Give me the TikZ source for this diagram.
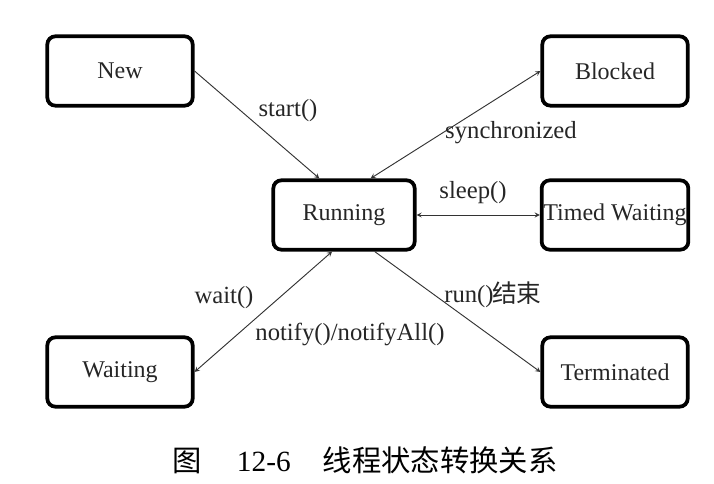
\documentclass[tikz,border=0pt]{standalone}
\usepackage{fontspec}
\setmainfont{Liberation Serif}
\newfontfamily\cjk{Noto Sans CJK SC}
\usepackage{tikz}
\usepackage{xcolor}

\begin{document}
\begin{tikzpicture}[
            x=0.75pt, y=-0.75pt,
            state/.style={rectangle, draw, line width=2.8pt, rounded corners=6pt, minimum width=109pt, minimum height=52pt, inner sep=0pt, font=\fontsize{18}{20}\selectfont, text=black!85},
            arrow/.style={->,>=stealth, line width=0.7pt, draw=black!80},
            twoway/.style={<->,>=stealth, line width=0.7pt, draw=black!80},
            lbl/.style={font=\fontsize{18.5}{20}\selectfont, text=black!85, inner sep=0pt}
        ]
            \useasboundingbox (0,0) rectangle (714,484);

            % States
            \node[state] (new) at (120,71) {New};
            \node[state] (blocked) at (615,71) {Blocked};
            \node[state, minimum width=106pt] (running) at (344,215) {Running};
            \node[state, minimum width=110pt] (timed) at (615,215) {Timed Waiting};
            \node[state] (waiting) at (120,372) {Waiting};
            \node[state] (terminated) at (615,372) {Terminated};

            % Transitions
            \draw[arrow] (new.east) -- (running.124);
            \draw[twoway] (running.54) -- (blocked.west);
            \draw[twoway] (running.east) -- (timed.west);
            \draw[arrow] (running.310) -- (terminated.west);
            \draw[twoway] (running.252) -- (waiting.east);

            % Labels
            \node[lbl] (lstart) at (288,111) {start()};
            \node[lbl] (lsync) at (511,133) {synchronized};
            \node[lbl] (lsleep) at (473,193) {sleep()};
            \node[lbl] (lwait) at (224,298) {wait()};
            \node[lbl] (lnotify) at (350,334) {notify()/notifyAll()};
            \node[lbl] (lrun) at (493,295) {run()\kern-1pt{\cjk 结束}};

            % Caption
            \node[font=\fontsize{22}{24}\selectfont, inner sep=0pt] (caption) at (365,460)
                {{\cjk 图}\hspace{1.2em}12-6\hspace{1.1em}{\cjk 线程状态转换关系}};

        \end{tikzpicture}
\end{document}
